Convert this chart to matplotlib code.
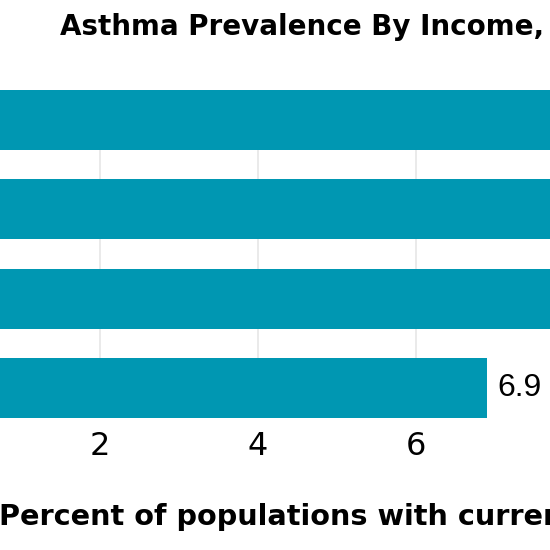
import matplotlib
matplotlib.use('agg')
import matplotlib.pyplot as plt
import numpy as np

# income groups, top to bottom (only the last bar is fully visible)
categories = ['Below 100% of poverty', '100% to <250%', '250% to <450%', '450% or higher']
prevalence = [10.5, 9.0, 8.3, 6.9]
xticks = [0, 2, 4, 6]

bar_color = '#0097b2'

fig = plt.figure(figsize=(5.5, 5.5), dpi=100)
ax = fig.add_axes([-0.1055, 0.24, 1.7236, 0.5964])

y = np.arange(len(categories))[::-1]
bars = ax.barh(y, prevalence, height=0.672, color=bar_color, zorder=2)

ax.set_xlim(0, 12)
ax.set_ylim(-0.336, 3.336)
ax.set_xticks(xticks)
ax.set_xticklabels([str(t) for t in xticks], fontsize=23, family='DejaVu Sans')
ax.set_yticks(y)
ax.set_yticklabels(categories)
ax.tick_params(axis='both', length=0)
ax.tick_params(axis='x', pad=9.5)
ax.grid(axis='x', color='#e6e6e6', linewidth=1.2, zorder=0)
for s in ax.spines.values():
    s.set_visible(False)

for b, v in zip(bars, prevalence):
    ax.text(b.get_width() + 0.13, b.get_y() + b.get_height() / 2, f'{v:.1f}',
            va='center', ha='left', fontsize=23, family='Liberation Sans')

fig.text(0.109, 0.9364, 'Asthma Prevalence By Income, 2021', fontsize=20,
         fontweight='bold', family='DejaVu Sans', ha='left', va='baseline')
fig.text(-0.002, 0.0455, 'Percent of populations with current asthma', fontsize=20.7,
         fontweight='bold', family='DejaVu Sans', ha='left', va='baseline')

fig.savefig('out.png', dpi=100)
